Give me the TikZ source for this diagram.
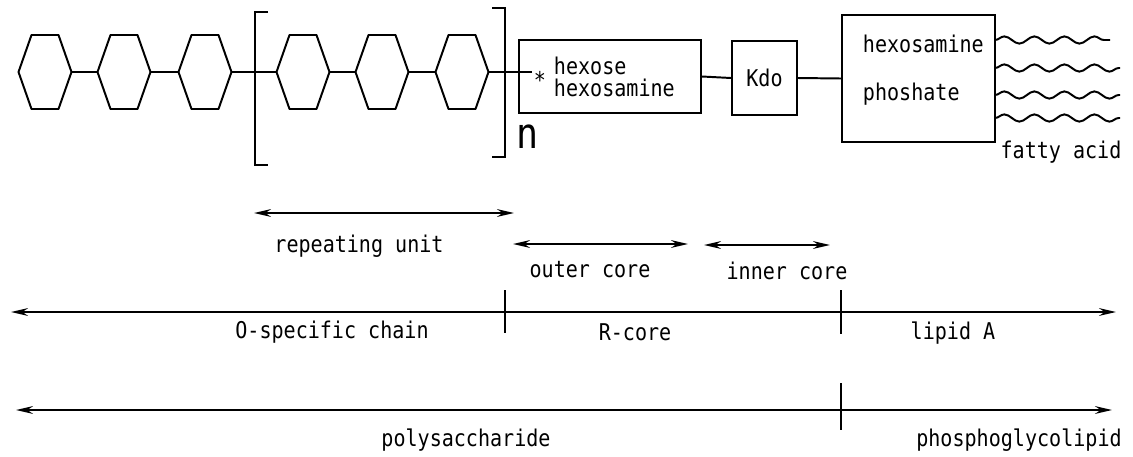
\documentclass[tikz,border=0pt]{standalone}
\usepackage{fontspec}
\usetikzlibrary{arrows.meta,decorations.pathmorphing}
\newfontfamily\gothfont[FakeStretch=0.87]{DejaVu Sans Mono}
\newcommand{\LabelFont}{\gothfont\fontsize{16.4}{15.6}\selectfont}
\newcommand{\BigFont}{\gothfont\fontsize{30}{30}\selectfont}

\begin{document}
\begin{tikzpicture}[x=0.025cm,y=-0.025cm,line width=1.4pt,
  every node/.style={font=\LabelFont},
  sugar/.style={line join=round},
  box/.style={draw,rectangle,inner sep=0pt},
  span/.style={line width=1.6pt,{Stealth[length=12pt,width=5.5pt]}-{Stealth[length=12pt,width=5.5pt]}},
  fatty/.style={decorate,decoration={snake,segment length=0.75cm,amplitude=0.09cm}}]
\useasboundingbox (0,0) rectangle (1133,456);
\foreach \i/\cx in {1/45,2/124,3/205,4/303,5/382,6/462}{
  \coordinate (h\i) at (\cx,72);
  \coordinate (h\i-w) at (\cx-26.5,72);
  \coordinate (h\i-e) at (\cx+26.5,72);
  \draw[sugar,shift={(h\i)}] (-26.5,0) -- (-13.5,-37) -- (13.5,-37) -- (26.5,0) -- (13.5,37) -- (-13.5,37) -- cycle;
}
\foreach \a/\b in {1/2,2/3,3/4,4/5,5/6}
  \draw (h\a-e) -- (h\b-w);
\draw (268,12) -- (255,12) -- (255,165) -- (268,165);
\draw (492,8) -- (505,8) -- (505,157) -- (492,157);
\node[font=\BigFont,inner sep=0pt] (rep) at (528,137) {n};
\node[box,minimum width=4.55cm,minimum height=1.825cm] (hexbox) at (610,76.5) {};
\coordinate (link) at (532,72);
\draw (h6-e) -- (link);
\node[inner sep=0pt] (star) at (540,80) {*};
\node[anchor=west,align=left,inner sep=0pt] (hexlbl) at (553,77) {hexose\\hexosamine};
\node[box,minimum width=1.625cm,minimum height=1.85cm] (kdo) at (764.5,78) {Kdo};
\node[box,minimum width=3.825cm,minimum height=3.175cm] (lipbox) at (918.5,78.5) {};
\node[anchor=west,inner sep=0pt] (hxa) at (862,44) {hexosamine};
\node[anchor=west,inner sep=0pt] (pho) at (862,94) {phoshate};
\draw (hexbox.east) -- (kdo.west);
\draw (kdo.east) -- (lipbox.west);
\foreach \i/\wy/\wx in {1/40/1110,2/68/1120,3/95/1120,4/118/1120}{
  \coordinate (fa\i) at (995,\wy);
  \coordinate (fz\i) at (\wx,\wy);
  \draw[fatty] (fa\i) -- (fz\i);
}
\node (falbl) at (1061,152) {fatty acid};

\coordinate (ru-l) at (254,213);
\coordinate (ru-r) at (514,213);
\draw[span] (ru-l) -- (ru-r);
\node (rulbl) at (359,246) {repeating unit};
\coordinate (oc-l) at (513,244);
\coordinate (oc-r) at (688,244);
\draw[span] (oc-l) -- (oc-r);
\node (oclbl) at (590,270) {outer core};
\coordinate (ic-l) at (704,245);
\coordinate (ic-r) at (830,245);
\draw[span] (ic-l) -- (ic-r);
\node (iclbl) at (787,271) {inner core};

\coordinate (ax-l) at (11,312);
\coordinate (ax-r) at (1116,312);
\draw[span] (ax-l) -- (ax-r);
\draw (505,290) -- (505,333);
\draw (841,290) -- (841,334);
\node (oslbl) at (332,332) {O-specific chain};
\node (rclbl) at (635,332) {R-core};
\node (lalbl) at (953,333) {lipid A};

\coordinate (bx-l) at (16,410);
\coordinate (bx-r) at (1112,410);
\draw[span] (bx-l) -- (bx-r);
\draw (841,383) -- (841,430);
\node (pslbl) at (466,440) {polysaccharide};
\node (pglbl) at (1019,440) {phosphoglycolipid};
\end{tikzpicture}
\end{document}
